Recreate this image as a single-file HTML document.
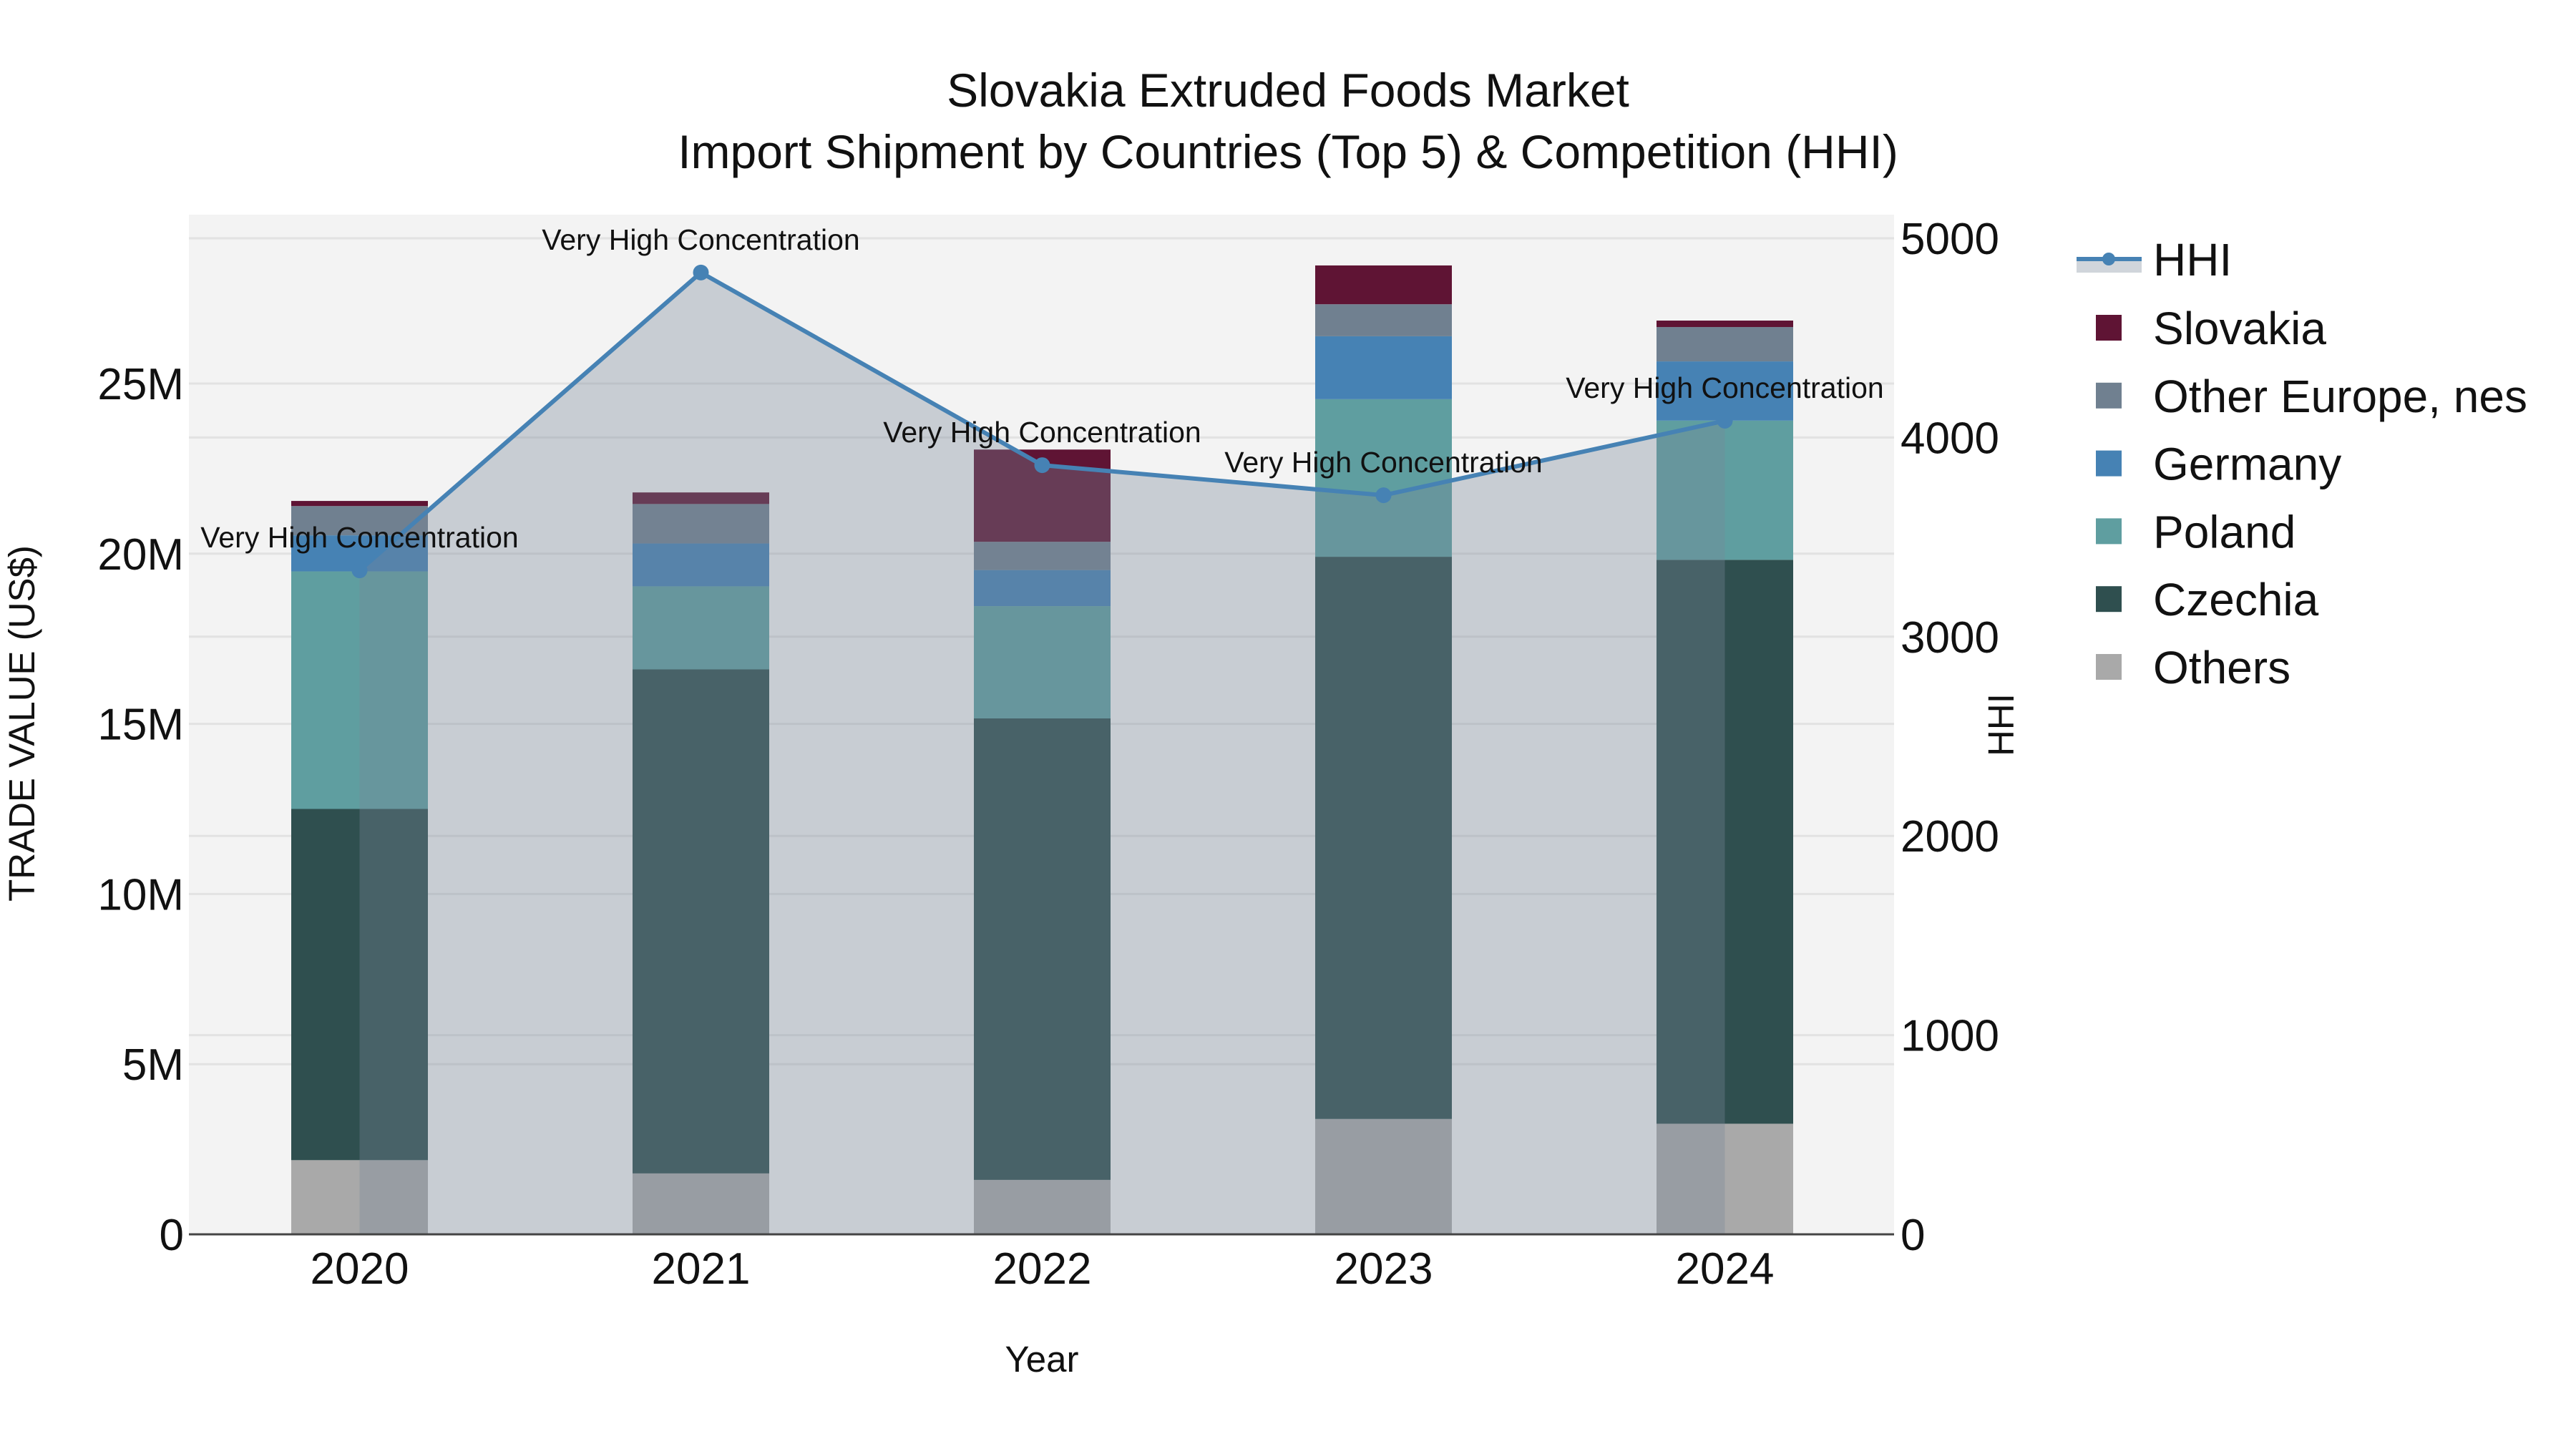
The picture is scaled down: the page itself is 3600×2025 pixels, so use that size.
<!DOCTYPE html>
<html><head><meta charset="utf-8">
<style>
html,body{margin:0;padding:0;background:#fff;}
svg{display:block;font-family:"Liberation Sans",Arial,sans-serif;}
</style></head>
<body>
<svg id="chart" width="3600" height="2025" viewBox="0 0 3600 2025" xmlns="http://www.w3.org/2000/svg">
  <rect x="0" y="0" width="3600" height="2025" fill="#ffffff"/>
  <text x="1800" y="149" text-anchor="middle" font-size="66" fill="#111">Slovakia Extruded Foods Market</text>
  <text x="1800" y="235" text-anchor="middle" font-size="66" fill="#111">Import Shipment by Countries (Top 5) &amp; Competition (HHI)</text>
  <rect x="264" y="300" width="2383" height="1425" fill="#f3f3f3"/>
  <g id="grid"></g>
  <g id="bars"></g>
  <g id="hhi"></g>
  <line x1="264" y1="1725" x2="2647" y2="1725" stroke="#444" stroke-width="3"/>
  <g id="axes"></g>
  <text x="1456" y="1917" text-anchor="middle" font-size="51" fill="#111">Year</text>
  <text transform="translate(48,1011) rotate(-90)" text-anchor="middle" font-size="51" fill="#111">TRADE VALUE (US$)</text>
  <text transform="translate(2814,1013) rotate(-90)" text-anchor="middle" font-size="51" fill="#111">HHI</text>
  <g id="legend"></g>
</svg>
<script>
const years = ["2020","2021","2022","2023","2024"];
const seriesNames = ["Others","Czechia","Poland","Germany","Other Europe, nes","Slovakia"];
const others = [2.18, 1.79, 1.60, 3.39, 3.25];
const czechia = [10.32, 14.81, 13.56, 16.52, 16.57];
const poland = [6.98, 2.44, 3.30, 4.63, 4.09];
const germany = [1.06, 1.26, 1.06, 1.85, 1.74];
const otherEurope = [0.86, 1.16, 0.83, 0.94, 1.01];
const slovakia = [0.15, 0.34, 2.71, 1.14, 0.19];
const hhi = [3333, 4828, 3861, 3710, 4084];
const hhiLabels = ["Very High Concentration","Very High Concentration","Very High Concentration","Very High Concentration","Very High Concentration"];
const leftTicks = [0, 5, 10, 15, 20, 25];
const leftTickLabels = ["0","5M","10M","15M","20M","25M"];
const rightTicks = [0, 1000, 2000, 3000, 4000, 5000];

const NS = "http://www.w3.org/2000/svg";
const colors = ["#a9a9a9","#2f4f4f","#5f9ea0","#4682b4","#708090","#5f1434"];
const plotL = 264, plotR = 2647, plotT = 300, base = 1725;
const yL = v => base - v * 47.56;
const yR = v => base - v * 0.2784;
const xC = i => 502.5 + i * 477;
const barW = 191;
function mk(tag, attrs, parent) {
  const e = document.createElementNS(NS, tag);
  for (const k in attrs) e.setAttribute(k, attrs[k]);
  parent.appendChild(e);
  return e;
}
const grid = document.getElementById('grid');
leftTicks.forEach(t => {
  if (t === 0) return;
  const g = mk('line', {x1: plotL, x2: plotR, y1: yL(t), y2: yL(t), stroke: '#e2e2e2', 'stroke-width': 3}, grid);
  
  
});
rightTicks.forEach(t => {
  if (t === 0) return;
  const g = mk('line', {x1: plotL, x2: plotR, y1: yR(t), y2: yR(t), stroke: '#e2e2e2', 'stroke-width': 3}, grid);
  
  
});
const bars = document.getElementById('bars');
const allSeries = [others, czechia, poland, germany, otherEurope, slovakia];
years.forEach((yr, i) => {
  let cum = 0;
  allSeries.forEach((s, k) => {
    const y0 = yL(cum), y1 = yL(cum + s[i]);
    cum += s[i];
    const r = mk('rect', {x: xC(i) - barW / 2, y: y1, width: barW, height: Math.max(0, y0 - y1), fill: colors[k]}, bars);
    
    
  });
});
const hg = document.getElementById('hhi');
const pts = hhi.map((v, i) => [xC(i), yR(v)]);
let d = 'M' + pts[0][0] + ',' + base + ' ' + pts.map(p => 'L' + p[0] + ',' + p[1]).join(' ') + ' L' + pts[pts.length - 1][0] + ',' + base + ' Z';
const area = mk('path', {d: d, fill: 'rgba(119,136,153,0.35)'}, hg);


const line = mk('polyline', {points: pts.map(p => p.join(',')).join(' '), fill: 'none', stroke: '#4682b4', 'stroke-width': 6}, hg);


pts.forEach((p, i) => {
  const c = mk('circle', {cx: p[0], cy: p[1], r: 11, fill: '#4682b4'}, hg);
  
  
  const t = mk('text', {x: p[0], y: p[1] - 32, 'text-anchor': 'middle', 'font-size': 41, fill: '#111'}, hg);
  t.textContent = hhiLabels[i];
  
  
});
const axes = document.getElementById('axes');
leftTicks.forEach((t, i) => {
  const e = mk('text', {x: 257, y: yL(t) + 22, 'text-anchor': 'end', 'font-size': 62, fill: '#111'}, axes);
  e.textContent = leftTickLabels[i];
  
  
});
rightTicks.forEach(t => {
  const e = mk('text', {x: 2656, y: yR(t) + 22, 'text-anchor': 'start', 'font-size': 62, fill: '#111'}, axes);
  e.textContent = String(t);
  
  
});
years.forEach((yr, i) => {
  const e = mk('text', {x: xC(i), y: 1794, 'text-anchor': 'middle', 'font-size': 62, fill: '#111'}, axes);
  e.textContent = yr;
  
  
});
const lg = document.getElementById('legend');
const hb = mk('rect', {x: 2902, y: 363, width: 91, height: 18, fill: 'rgba(119,136,153,0.35)'}, lg);


const hl = mk('line', {x1: 2902, x2: 2993, y1: 362, y2: 362, stroke: '#4682b4', 'stroke-width': 6}, lg);


const hc = mk('circle', {cx: 2947, cy: 362, r: 9, fill: '#4682b4'}, lg);


const ht = mk('text', {x: 3009, y: 385, 'font-size': 64, fill: '#111'}, lg);
ht.textContent = 'HHI';


const legOrder = [5, 4, 3, 2, 1, 0];
legOrder.forEach((k, j) => {
  const cy = 458 + j * 94.8;
  const s = mk('rect', {x: 2929, y: cy - 18, width: 36, height: 36, fill: colors[k]}, lg);
  
  
  const t = mk('text', {x: 3009, y: cy + 23, 'font-size': 64, fill: '#111'}, lg);
  t.textContent = seriesNames[k];
  
  
});
</script>
</body></html>
